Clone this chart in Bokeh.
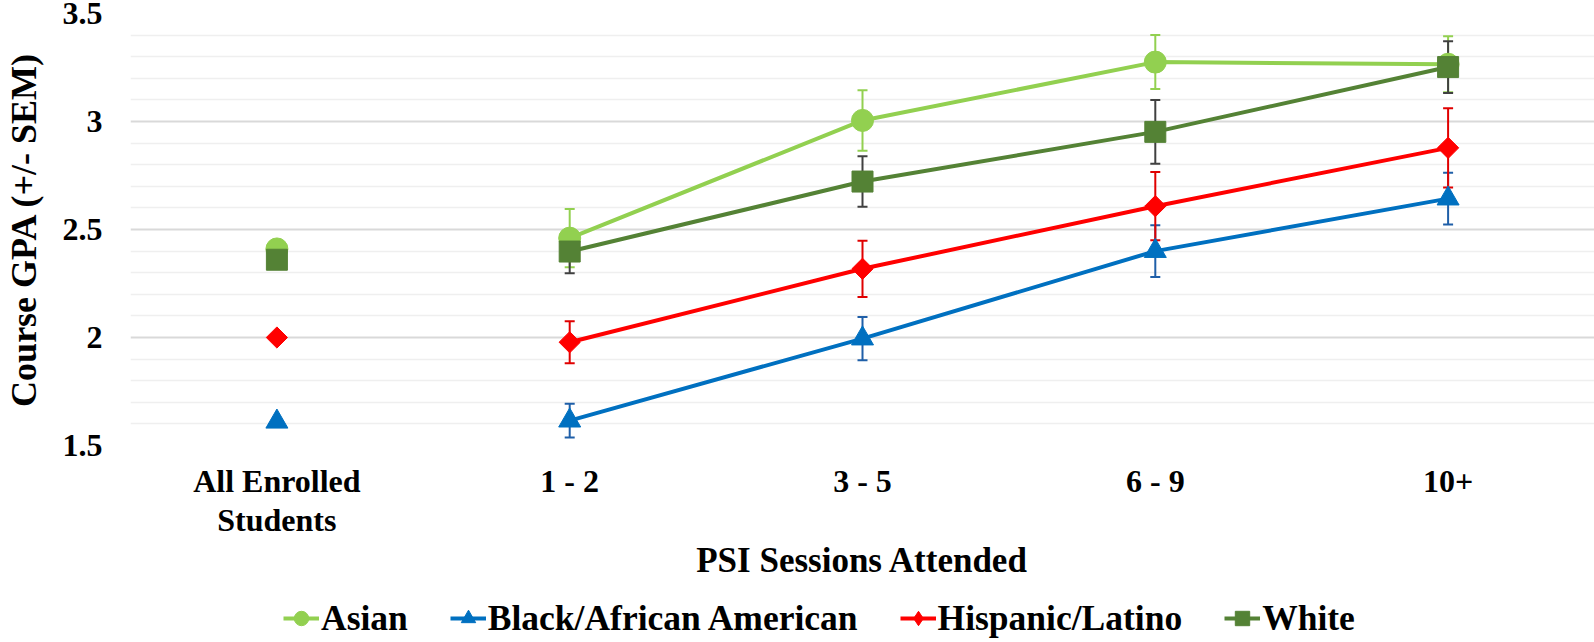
from bokeh.plotting import figure
from bokeh.layouts import column
from bokeh.models import (FactorRange, Range1d, FixedTicker, CustomJSTickFormatter,
                          Legend, LegendItem, ColumnDataSource)
from bokeh.embed import file_html
from bokeh.resources import INLINE
import numpy as np

# ---------------- data ----------------
categories = ["All Enrolled\nStudents", "1 - 2", "3 - 5", "6 - 9", "10+"]
session_cats = categories[1:]

asian = [2.41, 2.46, 3.005, 3.275, 3.265]
asian_sem = [0.135, 0.14, 0.125, 0.13]

black = [1.61, 1.615, 1.995, 2.40, 2.643]
black_sem = [0.078, 0.10, 0.12, 0.12]

hispanic = [2.00, 1.978, 2.318, 2.608, 2.878]
hispanic_sem = [0.097, 0.13, 0.158, 0.183]

white = [2.36, 2.398, 2.722, 2.952, 3.252]
white_sem = [0.10, 0.117, 0.148, 0.12]

y_major = [1.5, 2.0, 2.5, 3.0, 3.5]
y_minor = [1.6, 1.7, 1.8, 1.9, 2.1, 2.2, 2.3, 2.4, 2.6, 2.7, 2.8, 2.9,
           3.1, 3.2, 3.3, 3.4]

FONT = "Liberation Serif"
W = 1594
H_MAIN = 586
H_LEG = 56

p = figure(x_range=FactorRange(factors=categories, range_padding=0),
           y_range=Range1d(1.5, 3.5),
           width=W, height=H_MAIN, output_backend="svg", toolbar_location=None,
           min_border_left=126, min_border_right=0, min_border_top=13,
           min_border_bottom=141)

p.outline_line_color = None
p.background_fill_color = "white"
p.xgrid.grid_line_color = None
p.ygrid.grid_line_color = "#d9d9d9"
p.ygrid.grid_line_width = 2
p.ygrid.minor_grid_line_color = "#efefef"
p.ygrid.minor_grid_line_width = 1.5

p.yaxis.ticker = FixedTicker(ticks=y_major, minor_ticks=y_minor)
p.yaxis.formatter = CustomJSTickFormatter(code="return tick.toString()")

for ax in (p.xaxis, p.yaxis):
    ax.axis_line_color = None
    ax.major_tick_line_color = None
    ax.minor_tick_line_color = None
    ax.major_tick_out = 0
    ax.major_tick_in = 0
    ax.minor_tick_out = 0
    ax.major_label_text_font = FONT
    ax.major_label_text_font_style = "bold"
    ax.major_label_text_font_size = "32px"
    ax.major_label_text_color = "black"
    ax.major_label_text_line_height = 1.1
    ax.axis_label_text_font = FONT
    ax.axis_label_text_font_style = "bold"
    ax.axis_label_text_color = "black"

p.yaxis.axis_label = "Course GPA (+/- SEM)"
p.yaxis.axis_label_text_font_size = "36px"
p.yaxis.major_label_standoff = 28
p.yaxis.axis_label_standoff = 16
p.xaxis.axis_label = "PSI Sessions Attended"
p.xaxis.axis_label_text_font_size = "35px"
p.xaxis.major_label_standoff = 17
p.xaxis.axis_label_standoff = 0

series = [
    ("Asian", asian, asian_sem, "#92D050", "#92D050", "circle", 22, 0.0, "circle"),
    ("Black/African American", black, black_sem, "#0070C0", "#1F5FA8", "triangle", 22, 0.0, "triangle"),
    ("Hispanic/Latino", hispanic, hispanic_sem, "#FF0000", "#E00000", "square", 15, np.pi / 4, "diamond"),
    ("White", white, white_sem, "#548235", "#404040", "square", 21, 0.0, "square"),
]

# error bars first (under markers)
for name, vals, sem, color, ecolor, marker, size, ang, lmarker in series:
    v = np.array(vals[1:])
    s = np.array(sem)
    src = ColumnDataSource(dict(x=session_cats, lo=v - s, hi=v + s))
    p.segment(x0="x", y0="lo", x1="x", y1="hi", source=src,
              line_color=ecolor, line_width=2)
    p.scatter(x="x", y="lo", source=src, marker="dash", size=10,
              line_color=ecolor, line_width=2)
    p.scatter(x="x", y="hi", source=src, marker="dash", size=10,
              line_color=ecolor, line_width=2)

for name, vals, sem, color, ecolor, marker, size, ang, lmarker in series:
    p.line(x=session_cats, y=vals[1:], line_color=color, line_width=4)
    p.scatter(x=categories, y=vals, marker=marker, size=size, angle=ang,
              fill_color=color, line_color=color, line_width=1)

# ---------------- legend strip ----------------
leg = figure(width=W, height=H_LEG, output_backend="svg", toolbar_location=None,
             x_range=Range1d(0, 1), y_range=Range1d(0, 1),
             x_axis_type=None, y_axis_type=None,
             min_border=0, min_border_left=0, min_border_right=0,
             min_border_top=0, min_border_bottom=0)
leg.outline_line_color = None
leg.xgrid.visible = False
leg.ygrid.visible = False

items = []
for name, vals, sem, color, ecolor, marker, size, ang, lmarker in series:
    lr = leg.line(x=[np.nan], y=[np.nan], line_color=color, line_width=4)
    sr = leg.scatter(x=[np.nan], y=[np.nan], marker=lmarker, size=size,
                     fill_color=color, line_color=color, line_width=1)
    items.append(LegendItem(label=name, renderers=[lr, sr]))

legend = Legend(items=items, orientation="horizontal", location=(153, 3),
                border_line_color=None, background_fill_alpha=0,
                padding=0, margin=0, spacing=42,
                glyph_width=36, glyph_height=36, label_standoff=2,
                label_text_font=FONT, label_text_font_style="bold",
                label_text_font_size="35.5px", label_text_color="black")
leg.add_layout(legend, "center")

layout = column(p, leg, spacing=0)
open("out.html", "w").write(file_html(layout, INLINE))
